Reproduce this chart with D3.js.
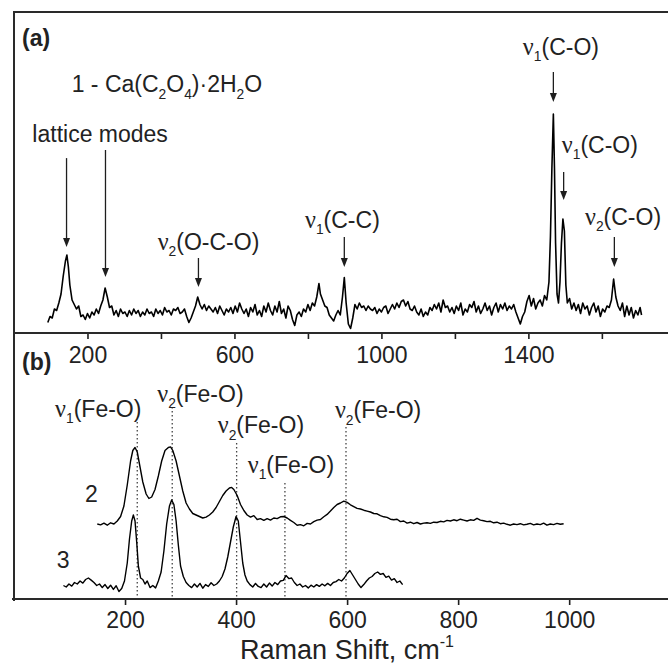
<!DOCTYPE html>
<html><head><meta charset="utf-8">
<script src="https://cdn.jsdelivr.net/npm/d3@7"></script>
<style>
html,body{margin:0;padding:0;background:#fff;}
svg{display:block;font-family:"Liberation Sans",Arial,sans-serif;}
</style></head>
<body><svg id="c" width="668" height="666"></svg>
<script>
// ---------- DATA ----------
// Panel (a): spectrum 1, Ca(C2O4)·2H2O  [Raman shift cm-1, intensity a.u.]
const spectrum1 = [[92,3.5],[98,5.5],[104,5],[110,8],[116,7.5],[122,10],[128,13],[134,19],[140,24],[144,26],[148,22],[152,16],[158,11],[164,9.5],[170,8],[176,9],[182,5.5],[188,6],[194,4.5],[200,6.5],[206,5],[212,7],[218,6],[224,8],[230,6.5],[236,9],[242,11],[248,15],[254,12],[260,8.5],[266,9],[272,6],[278,7.5],[284,5.5],[290,8],[296,6.5],[302,7],[308,5.5],[314,7.5],[320,6],[326,8],[332,6.5],[338,7.5],[344,5.5],[350,7],[356,6],[362,8],[368,6.5],[374,7],[380,5.5],[386,8],[392,6.5],[398,7.5],[404,6],[410,8.5],[416,7],[422,7.5],[428,6],[434,8],[440,7.5],[446,8.5],[452,6.5],[458,7],[464,8],[470,5.5],[476,3.5],[482,5],[488,7],[494,9],[500,12],[506,9.5],[512,8],[518,9.5],[524,7.5],[530,9],[536,8],[542,7],[548,8.5],[554,6.5],[560,9],[566,7.5],[572,6],[578,8],[584,7],[590,8.5],[596,6.5],[602,9],[608,7],[614,10],[620,8],[626,6.5],[632,8],[638,5.5],[644,8.5],[650,7],[656,9.5],[662,6],[668,7.5],[674,5.5],[680,9],[686,7],[692,10],[698,7.5],[704,6],[710,9],[716,7],[722,10.5],[728,6.5],[734,8],[740,5],[746,9],[752,7.5],[758,4.5],[764,2.5],[770,6],[776,7],[782,5.5],[788,8],[794,7],[800,9.5],[806,7.5],[812,10],[818,9],[824,12],[830,16.5],[834,13],[840,11],[846,9],[852,8.5],[858,6],[864,5],[870,4],[876,6],[882,7.5],[888,6],[894,12],[899,18.5],[904,10],[910,3],[916,1.5],[922,5],[928,9.5],[934,8],[940,10],[946,8.5],[952,9],[958,7.5],[964,9],[970,8],[976,7.5],[982,8.5],[988,6.5],[994,8],[1000,7],[1006,8.5],[1012,9],[1018,6.5],[1024,8],[1030,9.5],[1036,8],[1042,10],[1048,8.5],[1054,10.5],[1060,11],[1066,9],[1072,10.5],[1078,8],[1084,7.5],[1090,9],[1096,7],[1102,6],[1108,8],[1114,5.5],[1120,7],[1126,6],[1132,8.5],[1138,7.5],[1144,9.5],[1150,8],[1156,10],[1162,7],[1168,11],[1174,8.5],[1180,9],[1186,7],[1192,8.5],[1198,6.5],[1204,9],[1210,7.5],[1216,10],[1222,6],[1228,8],[1234,7],[1240,9.5],[1246,8.5],[1252,10.5],[1258,7],[1264,9],[1270,6.5],[1276,8],[1282,10],[1288,7.5],[1294,9],[1300,6],[1306,8.5],[1312,10],[1318,7],[1324,9.5],[1330,8],[1336,10],[1342,7.5],[1348,9],[1354,8],[1360,9.5],[1366,7],[1372,5],[1378,3],[1384,5.5],[1390,7],[1396,10.5],[1402,12.5],[1408,9],[1414,11.5],[1420,8],[1426,10],[1432,11],[1438,9],[1444,12.5],[1450,11],[1456,17],[1460,32],[1464,55],[1468,73],[1471,55],[1474,30],[1478,13],[1482,10],[1486,17],[1490,30],[1494,38],[1498,34],[1502,16],[1506,10],[1512,11.5],[1518,8],[1524,10],[1530,7.5],[1536,9.5],[1542,6.5],[1548,10],[1554,8],[1560,9],[1566,6],[1572,8.5],[1578,10],[1584,7],[1590,9],[1596,5.5],[1602,8],[1608,7],[1614,9],[1620,8.5],[1626,11],[1632,18],[1638,12],[1644,9],[1650,7.5],[1656,10],[1662,5.5],[1668,9],[1674,6],[1680,8.5],[1686,5],[1692,7.5],[1698,6],[1704,8.5],[1708,6]];

// Panel (b): spectrum 2
const spectrum2 = [[150,25],[156,24.7],[162,25.3],[168,24.6],[174,25.4],[180,25],[186,26],[192,27.5],[198,31],[204,38],[210,46],[214,49.5],[218,50.5],[222,49],[226,45],[232,39],[238,35],[243,33.5],[248,34],[254,36.5],[260,41],[266,46],[272,49.5],[278,50.5],[282,50.7],[286,49.5],[292,46],[298,41],[304,36],[310,32],[316,30],[322,28.5],[328,28],[334,27.5],[340,27],[346,27.3],[352,28],[358,29],[364,30.5],[370,32.5],[376,34.5],[382,36],[388,37],[392,37.2],[396,36.5],[402,34.5],[408,31.5],[414,29.5],[420,28],[426,27.3],[432,27.8],[438,26.5],[444,26.8],[450,26.2],[456,26.8],[462,26.3],[468,27],[474,26.8],[480,27.4],[486,27.5],[492,27],[498,26.2],[504,25.5],[510,24.6],[516,24.8],[522,24.4],[528,25.2],[534,25],[540,25.8],[546,26.3],[552,26.5],[558,27.4],[564,28.2],[570,29.3],[576,30.5],[582,31.5],[588,32],[594,32.6],[600,32.2],[606,31.4],[612,30.8],[618,30.2],[624,30],[630,29.6],[636,29.3],[642,29],[648,28.5],[654,28.4],[660,27.8],[666,27.4],[672,27.2],[678,26.6],[684,26.4],[690,26.6],[696,25.8],[702,26],[708,25.3],[714,25.6],[720,25.1],[726,25.5],[732,25],[738,25.3],[744,25.4],[750,25.2],[756,25.6],[762,25.5],[768,25.9],[774,25.7],[780,26.2],[786,26],[792,26.4],[798,26.1],[804,26.6],[810,26.3],[816,26],[822,26.4],[828,26.2],[834,26.9],[840,26.3],[846,26.1],[852,25.8],[858,25.9],[864,25.4],[870,25.6],[876,25.1],[882,25.3],[888,24.9],[894,24.6],[900,25],[906,24.8],[912,25.1],[918,24.7],[924,24.9],[930,25.2],[936,24.7],[942,25],[948,24.8],[954,25.3],[960,24.6],[966,25],[972,24.8],[978,25.2],[984,24.9],[990,25.1]];

// Panel (b): spectrum 3
const spectrum3 = [[89,4.5],[94,4],[99,5],[104,4.3],[109,5.5],[114,5],[119,6],[124,5.3],[129,6.5],[134,7],[139,6.3],[144,5.5],[149,4.5],[154,5],[159,3.8],[164,4.8],[169,3.5],[174,4.6],[179,3.2],[184,4.4],[189,2.5],[194,3.5],[199,6],[204,12],[208,20],[212,26],[215,28],[218,26],[221,19],[224,11],[228,7],[232,6.5],[236,5],[240,6],[245,3.8],[250,4.5],[255,3.7],[260,6],[265,9],[270,16],[275,25],[280,31],[284,33],[288,31.5],[292,26],[296,18],[300,11],[305,7.5],[310,5.5],[315,4.5],[320,3.8],[325,5],[330,4],[335,5.2],[340,3.6],[345,4.8],[350,4.2],[355,5.4],[360,4.5],[365,5],[370,6],[375,7.5],[380,10],[385,14],[390,19],[395,24],[400,27.5],[404,26],[408,19],[412,12],[416,8],[420,6],[425,4.8],[430,4],[435,5.2],[440,4.2],[445,3.8],[450,5],[455,4],[460,5.3],[465,4.3],[470,5.5],[475,4.8],[480,6],[485,6.2],[490,7.8],[495,6.8],[500,7],[505,5.5],[510,4.5],[515,5],[520,4],[525,4.5],[530,3.7],[535,4.6],[540,4],[545,4.8],[550,4.2],[555,5],[560,4.4],[565,5.2],[570,4.5],[575,5.5],[580,5.8],[585,6.5],[590,6],[595,7],[600,8.5],[605,9.5],[610,8],[615,6.5],[620,5],[625,3.8],[630,4.8],[635,6],[640,7],[645,7.5],[650,8.5],[655,9],[660,8.2],[665,8.5],[670,7.2],[675,7.6],[680,6.3],[685,6.8],[690,5.5],[695,6],[700,4.8]];

// Axis ticks
const ticksA = [200, 400, 600, 800, 1000, 1200, 1400, 1600];
const tickLabelsA = [200, 600, 1000, 1400];
const ticksB = [200, 400, 600, 800, 1000];

// Panel (a) arrows: [Raman shift, intensity at tail, intensity at head]
const arrowsA = [[143,58.3,28.7],[249,61,18.7],[502,25,15.3],[899,32,22],[1468,87,77],[1496,53.7,44.3],[1634,32,22]];
// Panel (a) labels: [parts, Raman shift (start), intensity (baseline)]
// parts: [text, kind] kind: n=normal, s=subscript, g=greek
const labelsA = [
  [[["1 - Ca(C","n"],["2","s"],["O","n"],["4","s"],[")·2H","n"],["2","s"],["O","n"]],157,80.3],
  [[["lattice modes","n"]],50,63.7],
  [[["ν","g"],["2","s"],["(O-C-O)","n"]],391,27.7],
  [[["ν","g"],["1","s"],["(C-C)","n"]],792,35],
  [[["ν","g"],["1","s"],["(C-O)","n"]],1385,92.7],
  [[["ν","g"],["1","s"],["(C-O)","n"]],1491,60],
  [[["ν","g"],["2","s"],["(C-O)","n"]],1554,36]
];
// Panel (b) dotted guide lines: [Raman shift, top intensity]
const guidesB = [[222,59],[285,64],[401,52],[488,38.7],[598,57.3]];
const labelsB = [
  [[["ν","g"],["1","s"],["(Fe-O)","n"]],74,60.7],
  [[["ν","g"],["2","s"],["(Fe-O)","n"]],258,65.7],
  [[["ν","g"],["2","s"],["(Fe-O)","n"]],367,55.3],
  [[["ν","g"],["1","s"],["(Fe-O)","n"]],421,42],
  [[["ν","g"],["2","s"],["(Fe-O)","n"]],578,60.3],
  [[["2","n"]],128,32.3],
  [[["3","n"]],77,10.3]
];
const panelLabels = ["(a)", "(b)"];
const axisTitle = "Raman Shift, cm";

// ---------- DRAW ----------
const svg = d3.select("#c");
const L = 14, R = 668, T = 12, MID = 333, B = 599;
const ink = "#1e1e1e";

const xA = d3.scaleLinear().domain([0, 1780]).range([L, R]);
const yA = d3.scaleLinear().domain([0, 107]).range([MID, T]);
const xB = d3.scaleLinear().domain([0, 1178]).range([L, R]);
const yB = d3.scaleLinear().domain([0, 89]).range([B, MID - 1]);

// spectra
const lineA = d3.line().x(d => xA(d[0])).y(d => yA(d[1]));
const lineB = d3.line().x(d => xB(d[0])).y(d => yB(d[1]));
svg.append("path").attr("d", lineA(spectrum1)).attr("fill","none").attr("stroke","#000").attr("stroke-width",1.6).attr("stroke-linejoin","round");

// guides (b)
svg.selectAll(".guide").data(guidesB).join("line")
  .attr("x1", d => xB(d[0])).attr("x2", d => xB(d[0]))
  .attr("y1", d => yB(d[1])).attr("y2", yB(0))
  .attr("stroke", "#444").attr("stroke-width", 1.3).attr("stroke-dasharray", "1.5,2.5");

svg.append("path").attr("d", lineB(spectrum2)).attr("fill","none").attr("stroke","#000").attr("stroke-width",1.4).attr("stroke-linejoin","round");
svg.append("path").attr("d", lineB(spectrum3)).attr("fill","none").attr("stroke","#000").attr("stroke-width",1.4).attr("stroke-linejoin","round");

// arrows (a)
const ag = svg.append("g");
arrowsA.forEach(a => {
  const x = xA(a[0]), y0 = yA(a[1]), y1 = yA(a[2]);
  ag.append("line").attr("x1", x).attr("x2", x).attr("y1", y0).attr("y2", y1 - 7)
    .attr("stroke", ink).attr("stroke-width", 1.3);
  ag.append("path").attr("d", `M${x-3.5},${y1-9}L${x+3.5},${y1-9}L${x},${y1}Z`).attr("fill", ink);
});

// axes
const axA = svg.append("g").attr("transform", `translate(0,${MID})`)
  .call(d3.axisBottom(xA).tickValues(ticksA).tickSize(6)
    .tickFormat(d => tickLabelsA.includes(d) ? d : ""));
const axB = svg.append("g").attr("transform", `translate(0,${B})`)
  .call(d3.axisBottom(xB).tickValues(ticksB).tickSize(6).tickFormat(d => d));
[axA, axB].forEach(g => {
  g.select(".domain").remove();
  g.selectAll(".tick line").attr("stroke", ink).attr("stroke-width", 1.6);
  g.selectAll(".tick text").attr("font-size", 23).attr("fill", "#222")
    .attr("font-family", "Liberation Sans, Arial, sans-serif").attr("dy", 0);
});
axA.selectAll(".tick text").attr("y", 30);
axB.selectAll(".tick text").attr("y", 29);

// frame
const fr = svg.append("g").attr("stroke", "#2a2a2a").attr("stroke-width", 2);
fr.append("line").attr("x1", L).attr("x2", L).attr("y1", T - 1).attr("y2", B + 2);
fr.append("line").attr("x1", L - 1).attr("x2", R).attr("y1", T).attr("y2", T);
fr.append("line").attr("x1", L - 1).attr("x2", R).attr("y1", MID).attr("y2", MID);
fr.append("line").attr("x1", L - 2).attr("x2", R).attr("y1", B).attr("y2", B);

// rich labels
function rich(parent, parts, x, y, size) {
  const t = parent.append("text").attr("x", x).attr("y", y).attr("font-size", size).attr("fill", "#222");
  let shifted = false;
  parts.forEach(p => {
    const s = t.append("tspan").text(p[0]);
    if (p[1] === "s") {
      s.attr("font-size", size * 0.6).attr("dy", size * 0.28);
      shifted = true;
    } else {
      if (shifted) { s.attr("dy", -size * 0.28); shifted = false; }
      if (p[1] === "g") s.attr("font-family", "Liberation Serif, serif").attr("font-size", size * 1.05);
    }
  });
  return t;
}
labelsA.forEach(l => rich(svg, l[0], xA(l[1]), yA(l[2]), 23));
labelsB.forEach(l => rich(svg, l[0], xB(l[1]), yB(l[2]), 23));

// panel labels
svg.append("text").attr("x", 22).attr("y", 46).attr("font-size", 23).attr("font-weight", "bold").attr("fill", "#222").text(panelLabels[0]);
svg.append("text").attr("x", 22).attr("y", 370).attr("font-size", 23).attr("font-weight", "bold").attr("fill", "#222").text(panelLabels[1]);

// axis title
const tt = svg.append("text").attr("x", 347).attr("y", 659).attr("text-anchor", "middle").attr("font-size", 27).attr("fill", "#222");
tt.append("tspan").text(axisTitle);
tt.append("tspan").text("-1").attr("font-size", 16).attr("dy", -12);
</script></body></html>
